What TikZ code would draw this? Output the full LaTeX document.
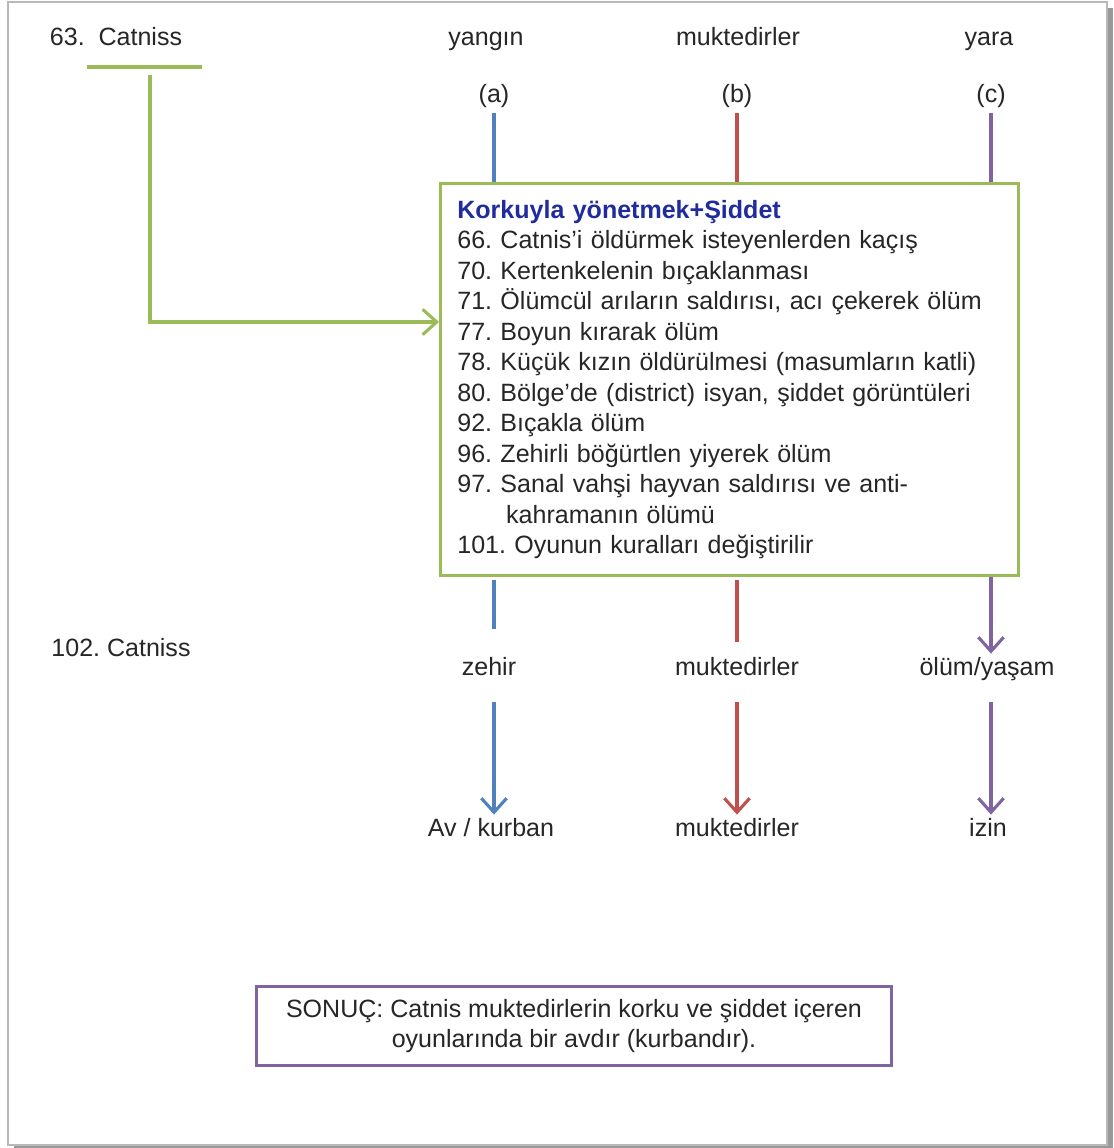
\documentclass[tikz,border=0pt]{standalone}
\usepackage{fontspec}
\setmainfont{Liberation Sans}
\usetikzlibrary{arrows.meta}
\frenchspacing

\definecolor{ogreen}{RGB}{155,187,89}
\definecolor{oblue}{RGB}{79,129,189}
\definecolor{ored}{RGB}{192,80,77}
\definecolor{opurple}{RGB}{128,100,162}
\definecolor{tblue}{RGB}{32,44,158}
\definecolor{ink}{RGB}{38,38,38}

\begin{document}
\begin{tikzpicture}[x=0.025cm, y=-0.025cm,
    every node/.style={font=\fontsize{17.8}{21.7}\selectfont, text=ink},
    lbl/.style={inner sep=0pt, text height=0.72em, text depth=0.21em},
    ln/.style={line width=2.2pt},
    tip/.style={-{Straight Barb[length=10pt,width=18pt]}}]
      % page frame
      \useasboundingbox (0,0) rectangle (1113,1148);
      \fill[gray!80] (14,8) rectangle (1113,1148);
      \filldraw[fill=white, draw=gray!55, line width=1.2pt] (8,2) rectangle (1107,1145);

      \node[lbl] (c63) at (116,42) {63.\ \ Catniss};
      \node[lbl] (c102) at (121,653) {102. Catniss};

      \node[lbl] (t1) at (486,42) {yangın};
      \node[lbl] (t2) at (738,42) {muktedirler};
      \node[lbl] (t3) at (989,42) {yara};
      \node[lbl] (a) at (494,99) {(a)};
      \node[lbl] (b) at (737,99) {(b)};
      \node[lbl] (c) at (991,99) {(c)};

      \node[draw=ogreen, line width=2.2pt, anchor=north west, align=left,
            text width=13.6cm, inner xsep=0.42cm, minimum height=9.8cm] (box) at (439,182) {%
        {\bfseries\color{tblue}Korkuyla yönetmek+Şiddet}\\
        66. Catnis’i öldürmek isteyenlerden kaçış\\
        70. Kertenkelenin bıçaklanması\\
        71. Ölümcül arıların saldırısı, acı çekerek ölüm\\
        77. Boyun kırarak ölüm\\
        78. Küçük kızın öldürülmesi (masumların katli)\\
        80. Bölge’de (district) isyan, şiddet görüntüleri\\
        92. Bıçakla ölüm\\
        96. Zehirli böğürtlen yiyerek ölüm\\
        97. Sanal vahşi hayvan saldırısı ve anti-\\
        \hspace*{1.22cm}kahramanın ölümü\\
        101. Oyunun kuralları değiştirilir};

      \node[lbl] (z) at (489,672) {zehir};
      \node[lbl] (m2) at (737,672) {muktedirler};
      \node[lbl] (o) at (987,672) {ölüm/yaşam};
      \node[lbl] (av) at (491,833) {Av / kurban};
      \node[lbl] (m3) at (737,833) {muktedirler};
      \node[lbl] (iz) at (988,833) {izin};

      \node[draw=opurple, line width=2.2pt, align=center, minimum width=15.85cm,
            minimum height=1.97cm] (res) at (574,1026) {SONUÇ: Catnis muktedirlerin korku ve şiddet içeren\\
        oyunlarında bir avdır (kurbandır).};

      % Catniss into the box
      \draw[ln, ogreen] (87,67) -- (202,67);
      \coordinate (u1) at (150,75);
      \coordinate (u2) at (150,322);
      \draw[ln, ogreen, tip] (u1) -- (u2) -- (u2 -| box.west);

      % into the box
      \draw[ln, oblue] (a.south) ++(0,7) -- (a.south |- box.north);
      \draw[ln, ored] (b.south) ++(0,7) -- (b.south |- box.north);
      \draw[ln, opurple] (c.south) ++(0,7) -- (c.south |- box.north);

      % out of the box
      \coordinate (ea) at (494,629);
      \coordinate (eb) at (737,642);
      \draw[ln, oblue] (ea |- box.south) ++(0,3) -- (ea);
      \draw[ln, ored] (eb |- box.south) ++(0,3) -- (eb);
      \draw[ln, opurple, tip, shorten >=0.29cm] (c |- box.south) -- (o.north -| c);

      \draw[ln, oblue, tip, shorten <=0.59cm, shorten >=0.29cm] (z.south -| a) -- (av.north -| a);
      \draw[ln, ored, tip, shorten <=0.59cm, shorten >=0.29cm] (m2.south -| b) -- (m3.north -| b);
      \draw[ln, opurple, tip, shorten <=0.59cm, shorten >=0.29cm] (o.south -| c) -- (iz.north -| c);
    \end{tikzpicture}
\end{document}
